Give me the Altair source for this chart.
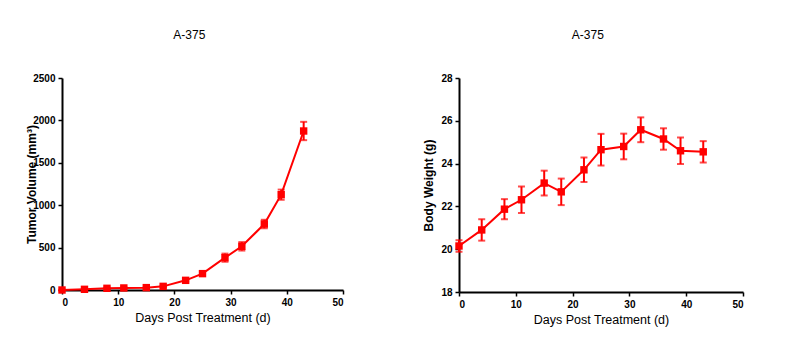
import altair as alt
import pandas as pd

days = [0, 4, 8, 11, 15, 18, 22, 25, 29, 32, 36, 39, 43]
tumor_mean = [0, 8, 20, 24, 28, 43, 114, 193, 381, 515, 778, 1124, 1875]
tumor_err = [4, 5, 8, 8, 6, 8, 12, 20, 48, 50, 50, 60, 108]
weight_mean = [20.15, 20.90, 21.87, 22.31, 23.09, 22.68, 23.71, 24.65, 24.80, 25.58, 25.15, 24.60, 24.55]
weight_err = [0.27, 0.50, 0.47, 0.62, 0.58, 0.62, 0.57, 0.74, 0.60, 0.58, 0.50, 0.62, 0.50]

x_ticks = [0, 10, 20, 30, 40, 50]
tumor_ticks = [0, 500, 1000, 1500, 2000, 2500]
weight_ticks = [18, 20, 22, 24, 26, 28]

RED = "#ff0000"
FONT = "Liberation Sans"


def panel(mean, err, ydomain, yticks, ytitle, w, h):
    df = pd.DataFrame({
        "day": days,
        "mean": mean,
        "lo": [m - e for m, e in zip(mean, err)],
        "hi": [m + e for m, e in zip(mean, err)],
    })
    x = alt.X("day:Q", scale=alt.Scale(domain=[0, 50], nice=False),
              axis=alt.Axis(values=x_ticks, format="d", title="Days Post Treatment (d)"))
    y_axis = alt.Axis(values=yticks, format="d", title=ytitle, titleX=-24)
    base = alt.Chart(df)
    line = base.mark_line(color=RED, strokeWidth=2).encode(
        x=x, y=alt.Y("mean:Q", scale=alt.Scale(domain=ydomain, nice=False), axis=y_axis))
    pts = base.mark_square(color=RED, size=55, opacity=1).encode(x=x, y="mean:Q")
    rule = base.mark_rule(color=RED, strokeWidth=2).encode(x=x, y="lo:Q", y2="hi:Q")
    cap_hi = base.mark_tick(color=RED, thickness=2, size=7, orient="horizontal").encode(x=x, y="hi:Q")
    cap_lo = base.mark_tick(color=RED, thickness=2, size=7, orient="horizontal").encode(x=x, y="lo:Q")
    return alt.layer(line, rule, cap_hi, cap_lo, pts).properties(
        width=w, height=h,
        title=alt.TitleParams("A-375", frame="bounds", anchor="middle", offset=31, dx=5,
                              fontSize=12, fontWeight="normal", font=FONT, color="#000"),
    )


left = panel(tumor_mean, tumor_err, [0, 2500], tumor_ticks, "Tumor Volume (mm³)", 281, 212)
right = panel(weight_mean, weight_err, [18, 28], weight_ticks, "Body Weight (g)", 284, 214)

chart = alt.hconcat(left, right, spacing=78).properties(
    padding={"left": 17, "top": 21, "right": 5, "bottom": 5}
).configure_view(stroke=None).configure_axis(
    grid=False,
    domainColor="#000", domainWidth=2,
    tickColor="#000", tickWidth=1.5, tickSize=4,
    labelFont=FONT, labelFontSize=10, labelFontWeight="bold", labelColor="#000",
    titleFont=FONT, titleColor="#000",
).configure_axisX(
    titleFontSize=12.5, titleFontWeight="normal", titlePadding=4, labelPadding=3,
).configure_axisY(
    titleFontSize=12, titleFontWeight="bold", labelPadding=3,
)

chart.save("out.html", embed_options={"renderer": "svg", "actions": False})
